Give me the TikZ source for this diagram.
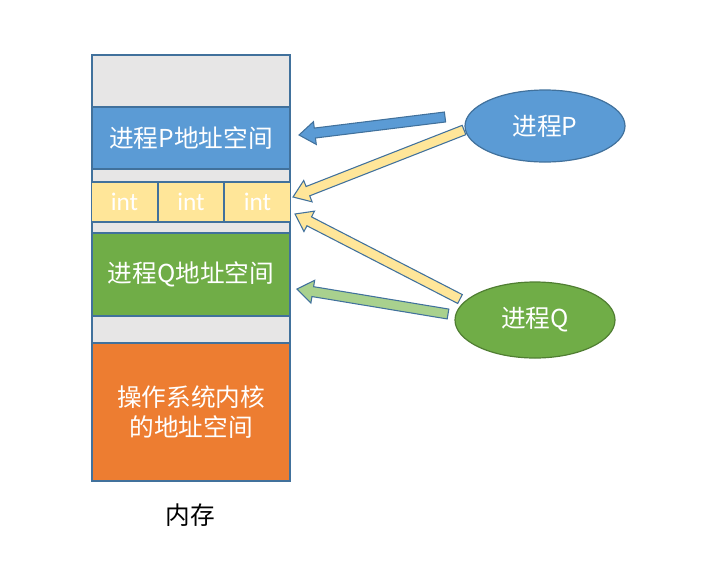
\documentclass[tikz,border=0pt]{standalone}
\usepackage{fontspec}
\newfontfamily\cjk{Noto Sans CJK SC}
\newfontfamily\latn{Carlito}
\usetikzlibrary{calc,shapes.geometric}
\definecolor{pblue}{HTML}{5B9BD5}
\definecolor{eline}{HTML}{41719C}
\definecolor{qgreen}{HTML}{70AD47}
\definecolor{gline}{HTML}{507E32}
\definecolor{oorange}{HTML}{ED7D31}
\definecolor{yint}{HTML}{FFE699}
\definecolor{lgray}{HTML}{E7E6E6}
\definecolor{lgreen}{HTML}{A9D18E}
\newcommand{\fatarrow}[3]{%
  \coordinate (fac) at ($(#3)!12pt!(#2)$);
  \filldraw[#1, line width=0.8pt, line join=miter]
    ($(#2)!3.75pt!90:(#3)$) -- ($(fac)!3.75pt!-90:(#2)$) -- ($(fac)!8.6pt!-90:(#2)$)
    -- (#3) -- ($(fac)!8.6pt!90:(#2)$) -- ($(fac)!3.75pt!90:(#2)$)
    -- ($(#2)!3.75pt!-90:(#3)$) -- cycle;}
\begin{document}
\begin{tikzpicture}[x=0.75pt,y=-0.75pt,
  blk/.style={draw=eline, line width=0.9pt, inner sep=0pt, minimum width=148.5pt, text=white, font=\cjk\fontsize{18.5}{22}\selectfont, align=center},
  intbox/.style={draw=eline, line width=0.9pt, fill=yint, inner sep=0pt, minimum width=49.5pt, minimum height=30pt, text=white, font=\latn\fontsize{19}{22}\selectfont},
  proc/.style={ellipse, line width=0.9pt, inner sep=0pt, minimum width=120pt, text=white, font=\cjk\fontsize{18.5}{22}\selectfont}]
\useasboundingbox (0,0) rectangle (706,568);
\node[blk, fill=lgray, minimum height=319.5pt] (mem) at (191,268) {};
\node[blk, fill=pblue, minimum height=46.5pt] (pspace) at (191,138) {进程P地址空间};
\node[intbox] (i1) at (124.5,202) {int};
\node[intbox] (i2) at (191,202) {int};
\node[intbox] (i3) at (257.5,202) {int};
\node[blk, fill=qgreen, minimum height=62.25pt] (qspace) at (191,274.5) {进程Q地址空间};
\node[blk, fill=oorange, minimum height=103.5pt] (os) at (191,412) {操作系统内核\\[0pt]的地址空间};
\node[font=\cjk\fontsize{18.5}{22}\selectfont] (memlabel) at (190,515) {内存};
\node[proc, draw=eline, fill=pblue, minimum height=54pt] (P) at (545,126) {进程P};
\node[proc, draw=gline, fill=qgreen, minimum height=57pt] (Q) at (535,320) {进程Q};
\coordinate (pa1) at (445,117);
\coordinate (pa2) at (299,135);
\coordinate (pb1) at (464,130);
\coordinate (pb2) at (293,197);
\coordinate (qa1) at (460,299);
\coordinate (qa2) at (295,214);
\coordinate (qb1) at (448,314);
\coordinate (qb2) at (297,289);
\fatarrow{fill=pblue, draw=eline}{pa1}{pa2}
\fatarrow{fill=yint, draw=eline}{pb1}{pb2}
\fatarrow{fill=yint, draw=eline}{qa1}{qa2}
\fatarrow{fill=lgreen, draw=eline}{qb1}{qb2}
\end{tikzpicture}
\end{document}
